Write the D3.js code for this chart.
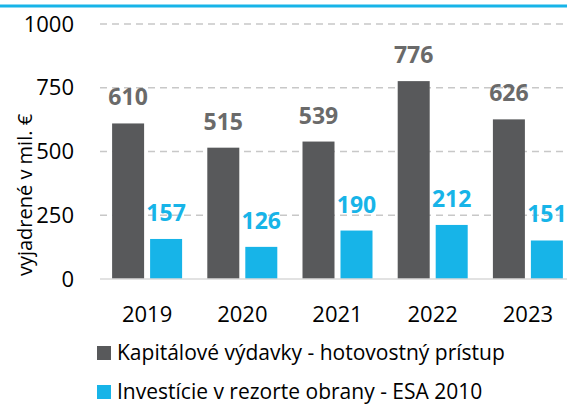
<!DOCTYPE html>
<html lang="en">
<head>
  <meta charset="utf-8">
  <title>Kapitálové výdavky</title>
  <style>
    body { margin: 0; padding: 0; background: #fff; font-family: 'Open Sans', sans-serif; }
    svg { display: block; }
  </style>
  <script src="https://d3js.org/d3.v7.min.js"></script>
</head>
<body>
  <div id="chart"></div>
  <script>
    // data
    var years = ["2019", "2020", "2021", "2022", "2023"];
    var seriesNames = ["Kapitálové výdavky - hotovostný prístup", "Investície v rezorte obrany - ESA 2010"];
    var kapitalove = [610, 515, 539, 776, 626];
    var investicie = [157, 126, 190, 212, 151];
    var yTicks = [0, 250, 500, 750, 1000];
    var colors = ["#58595b", "#17b4e8"];
    var labelColors = ["#6a6a6a", "#17b4e8"];

    var W = 567, H = 404;
    var svg = d3.select("#chart").append("svg").attr("width", W).attr("height", H);

    // top accent line
    svg.append("line")
      .attr("x1", 0).attr("x2", W).attr("y1", 6).attr("y2", 6)
      .attr("stroke", "#17b4e8").attr("stroke-width", 3);

    var x = d3.scaleBand().domain(years).range([99.5, 575.5]);
    var xs = d3.scaleBand().domain([0, 1]).range([0, 70]).paddingInner(6 / 38);
    var y = d3.scaleLinear().domain([0, 1000]).range([279, 24]);

    // gridlines
    svg.append("g").selectAll("line")
      .data(yTicks.filter(d => d > 0))
      .enter().append("line")
      .attr("x1", 100).attr("x2", W)
      .attr("y1", d => y(d)).attr("y2", d => y(d))
      .attr("stroke", "#c8c8c8").attr("stroke-width", 1.5)
      .attr("stroke-dasharray", "7,5");

    // y axis labels
    var yAxis = d3.axisLeft(y).tickValues(yTicks).tickFormat(d3.format("d")).tickSize(0).tickPadding(0);
    var gy = svg.append("g").attr("transform", "translate(74,0)").call(yAxis);
    gy.select(".domain").remove();
    gy.selectAll("text")
      .style("font-family", "'Open Sans', sans-serif")
      .style("font-size", "22px")
      .attr("fill", "#000");

    // bars
    var groups = [kapitalove, investicie];
    groups.forEach(function (vals, si) {
      var off = (x.bandwidth() - 70) / 2 + xs(si);
      svg.append("g").selectAll("rect")
        .data(vals)
        .enter().append("rect")
        .attr("x", (d, i) => x(years[i]) + off)
        .attr("y", d => y(d))
        .attr("width", xs.bandwidth())
        .attr("height", d => y(0) - y(d))
        .attr("fill", colors[si]);

      svg.append("g").selectAll("text")
        .data(vals)
        .enter().append("text")
        .attr("x", (d, i) => x(years[i]) + off + xs.bandwidth() / 2)
        .attr("y", d => y(d) - 18)
        .attr("text-anchor", "middle")
        .style("font-family", "'Open Sans', sans-serif")
        .style("font-weight", "bold")
        .style("font-size", "23px")
        .attr("fill", labelColors[si])
        .text(d => d);
    });

    // baseline
    svg.append("line")
      .attr("x1", 100).attr("x2", W)
      .attr("y1", y(0)).attr("y2", y(0))
      .attr("stroke", "#d9d9d9").attr("stroke-width", 1.5);

    // x axis labels
    var xAxis = d3.axisBottom(x).tickSize(0).tickPadding(0);
    var gx = svg.append("g").attr("transform", "translate(0,306)").call(xAxis);
    gx.select(".domain").remove();
    gx.selectAll("text")
      .style("font-family", "'Open Sans', sans-serif")
      .style("font-size", "22px")
      .attr("fill", "#000");

    // y title
    svg.append("text")
      .attr("transform", "translate(32,195) rotate(-90)")
      .attr("text-anchor", "middle")
      .style("font-family", "'Open Sans', sans-serif")
      .style("font-size", "20px")
      .attr("fill", "#000")
      .text("vyjadrené v mil. €");

    // legend
    var legend = svg.append("g").selectAll("g")
      .data(seriesNames)
      .enter().append("g")
      .attr("transform", (d, i) => "translate(97," + (346 + i * 39) + ")");
    legend.append("rect")
      .attr("width", 14).attr("height", 14)
      .attr("fill", (d, i) => colors[i]);
    legend.append("text")
      .attr("x", 20).attr("y", 14)
      .style("font-family", "'Open Sans', sans-serif")
      .style("font-size", "21px")
      .attr("fill", "#000")
      .text(d => d);
  </script>
</body>
</html>
